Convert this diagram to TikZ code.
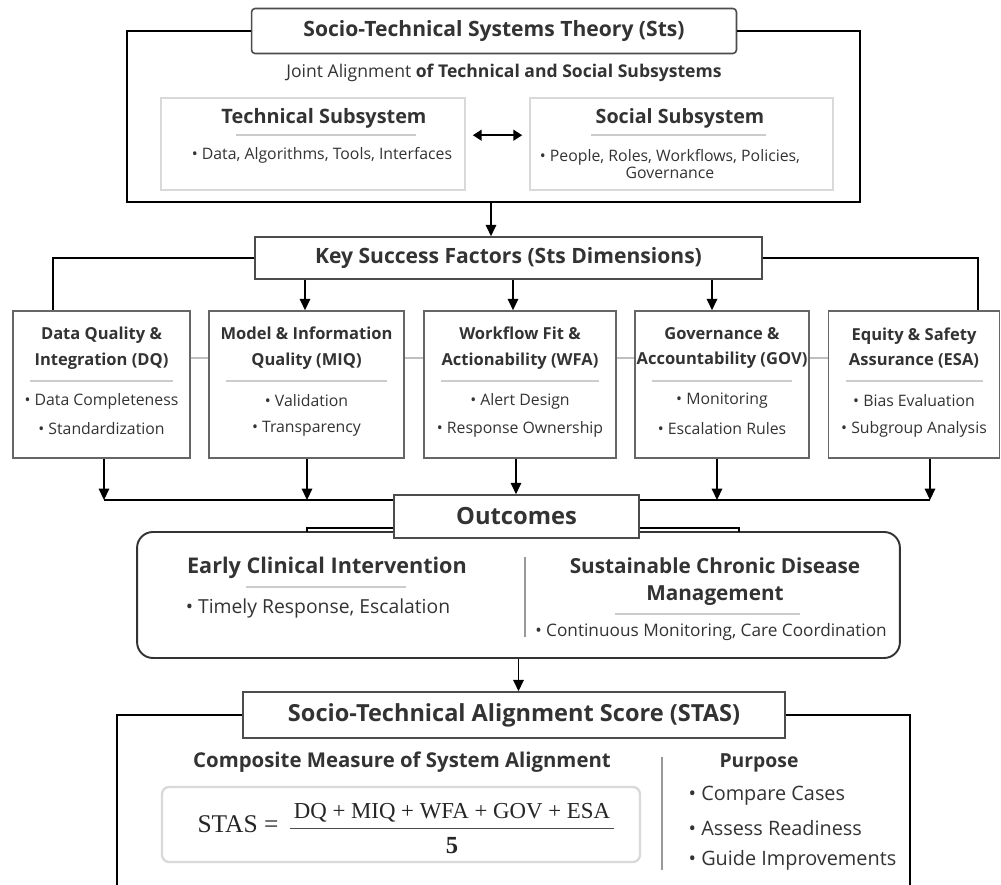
\documentclass[tikz,border=0pt]{standalone}
\usepackage{fontspec}
\setmainfont{Open Sans}
\newfontfamily\formfont{Liberation Serif}
\usetikzlibrary{arrows.meta}

\begin{document}
\begin{tikzpicture}[x=0.02cm, y=-0.02cm, line width=0.9pt,
  every node/.style={font=\fontsize{9}{10}\selectfont, text=black!80},
  head/.style={draw=black!70, fill=white, font=\bfseries\fontsize{12}{14}\selectfont},
  dimbox/.style={draw=black!60, fill=white, minimum height=2.94cm},
  subbox/.style={draw=black!15, fill=white, minimum height=1.84cm},
  ttl/.style={font=\bfseries\fontsize{9.4}{14.7}\selectfont, align=center},
  arr/.style={-{Triangle[length=6.5pt,width=6pt]}},
  rule/.style={draw=black!20, line width=0.6pt},
  link/.style={draw=black!25, line width=0.8pt}]
  \fill[white] (0,0) rectangle (1001,885);
  \useasboundingbox (0,0) rectangle (1001,885);

  % Theory frame
  \node[head, rounded corners=2pt, minimum width=9.7cm, minimum height=0.9cm] (sts) at (494,31) {Socio-Technical Systems Theory (Sts)};
  \draw (sts.west) -- (127,31) -- (127,202) -- (860,202) -- (860,31) -- (sts.east);
  \coordinate (stsS) at (491,202);
  \node[font=\fontsize{10}{12}\selectfont] (joint) at (504,73) {Joint Alignment \textbf{of Technical and Social Subsystems}};
  \node[subbox, minimum width=6.08cm] (tech) at (313,144) {};
  \node[subbox, minimum width=6.06cm] (soc) at (681.5,144) {};
  \node[ttl, font=\bfseries\fontsize{11.3}{13}\selectfont] (techT) at (324,118) {Technical Subsystem};
  \draw[rule] (236,135) -- (416,135);
  \node (techB) at (322,155) {\textbullet\ Data, Algorithms, Tools, Interfaces};
  \node[ttl, font=\bfseries\fontsize{11.2}{13}\selectfont] (socT) at (680,118) {Social Subsystem};
  \draw[rule] (591,135) -- (766,135);
  \node[align=center, font=\fontsize{9}{10.2}\selectfont] (socB) at (670,164) {\textbullet\ People, Roles, Workflows, Policies,\\Governance};
  \draw[{Triangle[length=5pt,width=6pt]}-{Triangle[length=5pt,width=6pt]}, line width=1.4pt]
    ([xshift=4pt,yshift=5pt]tech.east) -- ([xshift=-4pt,yshift=5pt]soc.west);

  % Key success factors
  \node[head, minimum width=10.14cm, minimum height=0.84cm] (ksf) at (508.5,258) {Key Success Factors (Sts Dimensions)};
  \draw[arr] (stsS) -- (stsS |- ksf.north);
  \foreach \n/\x/\w/\ta/\tb/\ba/\bb in {
      dq/101.5/3.54/Data Quality \&/Integration (DQ)/Data Completeness/Standardization,
      miq/306.5/3.9/Model \& Information/Quality (MIQ)/Validation/Transparency,
      wfa/520/3.84/Workflow Fit \&/Actionability (WFA)/Alert Design/Response Ownership,
      gov/722/3.48/Governance \&/Accountability (GOV)/Monitoring/Escalation Rules,
      esa/914/3.42/Equity \& Safety/Assurance (ESA)/Bias Evaluation/Subgroup Analysis} {
    \node[dimbox, minimum width=\w cm] (\n) at (\x,384.5) {};
    \node[ttl] (\n-t) at (\x,348) {\ta\\\tb};
    \draw[rule] (\x-\w*25+17,381) -- (\x+\w*25-17,381);
    \node (\n-a) at (\x,401) {\textbullet\ \ba};
    \node (\n-b) at (\x,429) {\textbullet\ \bb};
  }
  \foreach \a/\b in {dq/miq,miq/wfa,wfa/gov,gov/esa}
    \draw[link] ([yshift=0.53cm]\a.east) -- ([yshift=0.53cm]\b.west);
  \draw (ksf.west) -| ([xshift=-0.97cm]dq.north);
  \draw (ksf.east) -| ([xshift=1.28cm]esa.north);
  \foreach \n/\s in {miq/-0.03,wfa/-0.14,gov/-0.2}
    \draw[arr] ([xshift=\s cm]ksf.south -| \n.north) -- ([xshift=\s cm]\n.north);

  % Outcomes
  \coordinate (bus) at (0,500);
  \coordinate (jog) at (0,528);
  \node[draw=black!80, rounded corners=9pt, line width=1.1pt, minimum width=15.26cm, minimum height=2.52cm] (res) at (518.5,595) {};
  \node[head, minimum width=4.9cm, minimum height=0.86cm, font=\bfseries\fontsize{13.5}{15}\selectfont] (out) at (516.5,516.5) {Outcomes};
  \foreach \n/\s in {dq/0.05,miq/0.01,gov/-0.1,esa/0.32}
    \draw[arr] ([xshift=\s cm]\n.south) -- ([xshift=\s cm]\n.south |- bus);
  \draw[arr] ([xshift=-0.08cm]wfa.south) -- ([xshift=-0.08cm]wfa.south |- out.north);
  \draw ([xshift=0.05cm]dq.south |- bus) -- (out.west |- bus);
  \draw (out.east |- bus) -- ([xshift=0.32cm]esa.south |- bus);
  \draw (out.west |- jog) -- (307,528) -- (307,532);
  \draw (out.east |- jog) -- (739,528) -- (739,532);
  \node[ttl, font=\bfseries\fontsize{12.3}{14}\selectfont] (eci) at (327,568) {Early Clinical Intervention};
  \draw[rule] (246,587) -- (406,587);
  \node[font=\fontsize{11}{13}\selectfont] (eciB) at (318,608) {\textbullet\ Timely Response, Escalation};
  \draw[black!40, line width=0.6pt] (525,557) -- (525,637);
  \node[ttl, font=\bfseries\fontsize{11.8}{15.3}\selectfont] (scd) at (715,581.5) {Sustainable Chronic Disease\\Management};
  \draw[rule] (615,614) -- (800,614);
  \node[font=\fontsize{9.8}{11}\selectfont] (scdB) at (711,632) {\textbullet\ Continuous Monitoring, Care Coordination};

  % Alignment score
  \node[head, minimum width=10.84cm, minimum height=0.92cm, font=\bfseries\fontsize{13.4}{15}\selectfont] (stas) at (514,715) {Socio-Technical Alignment Score (STAS)};
  \draw[arr] (res.south) -- (res.south |- stas.north);
  \draw (stas.west) -- (117,715) -- (117,885);
  \draw (stas.east) -- (910,715) -- (910,885);
  \node[ttl, font=\bfseries\fontsize{11.6}{13}\selectfont] (comp) at (402,762) {Composite Measure of System Alignment};
  \node[draw=black!15, line width=1.3pt, rounded corners=4pt, minimum width=9.56cm, minimum height=1.5cm] (fbox) at (401,824.5) {};
  \node[font=\formfont\fontsize{14.5}{17}\selectfont, text=black!85] (lhs) at (238,824) {STAS =};
  \node[font=\formfont\fontsize{13}{15}\selectfont, text=black!85, inner sep=2pt] (num) at (452,813) {DQ + MIQ + WFA + GOV + ESA};
  \draw[black!70, line width=0.7pt] ([yshift=-1pt]num.south west) -- ([yshift=-1pt]num.south east);
  \node[font=\formfont\bfseries\fontsize{14}{16}\selectfont, text=black!85] (den) at (452,846) {5};
  \draw[black!40, line width=0.6pt] (662,757) -- (662,870);
  \node[ttl, font=\bfseries\fontsize{11}{13}\selectfont] (purp) at (759,763) {Purpose};
  \foreach \t [count=\i] in {Compare Cases, Assess Readiness, Guide Improvements}
    \node[anchor=west, font=\fontsize{11.3}{13}\selectfont] (p\i) at (682,764+\i*32) {\textbullet\ \t};
\end{tikzpicture}
\end{document}
